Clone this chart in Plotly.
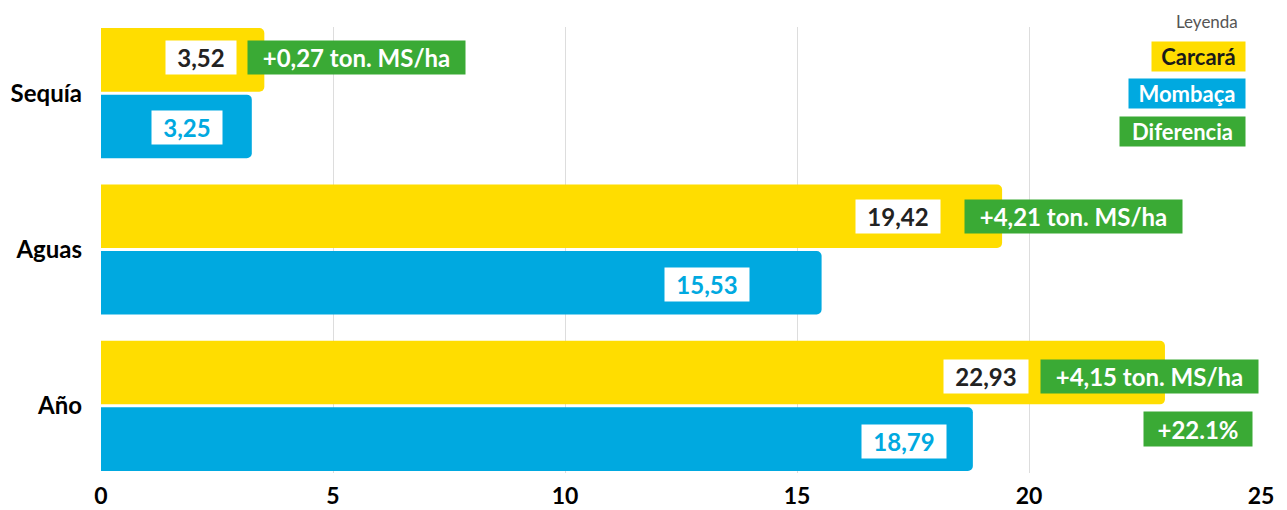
import plotly.graph_objects as go

# ---- data ----
categories = ["Año", "Aguas", "Sequía"]          # bottom -> top
carcara = [22.93, 19.42, 3.52]
mombaca = [18.79, 15.53, 3.25]
diferencia_txt = ["+4,15 ton. MS/ha", "+4,21 ton. MS/ha", "+0,27 ton. MS/ha"]
pct_txt = "+22.1%"
x_ticks = [0, 5, 10, 15, 20, 25]

# ---- style / label placement (data units on x) ----
YELLOW = "#FFDD00"
BLUE = "#00A9E0"
GREEN = "#3AAA35"
FONT = "Lato"
carcara_label_x = [19.07, 17.18, 2.155]
mombaca_label_x = [17.31, 13.07, 1.864]
dif_label_x = [22.60, 20.96, 5.506]
pct_label_x = 23.64
y_off_top = [0.188, 0.211, 0.228]
y_off_bot = [-0.225, -0.224, -0.217]

def fmt(v):
    return f"{v:.2f}".replace(".", ",")

fig = go.Figure()
fig.add_trace(go.Bar(y=categories, x=mombaca, orientation="h", name="Mombaça",
                     marker=dict(color=BLUE, cornerradius=5, line=dict(width=0)),
                     hoverinfo="skip"))
fig.add_trace(go.Bar(y=categories, x=carcara, orientation="h", name="Carcará",
                     marker=dict(color=YELLOW, cornerradius=5, line=dict(width=0)),
                     hoverinfo="skip"))

VAL_SIZE = 24
ann = []
for i, cat in enumerate(categories):
    w = 70 if carcara[i] < 10 else 84
    ann.append(dict(x=carcara_label_x[i], y=i + y_off_top[i], xref="x", yref="y",
                    text=f"<b>{fmt(carcara[i])}</b>", showarrow=False,
                    font=dict(family=FONT, size=VAL_SIZE, color="#222222"),
                    bgcolor="white", width=w, height=33, borderpad=0,
                    xanchor="center", yanchor="middle"))
    w = 70 if mombaca[i] < 10 else 84
    ann.append(dict(x=mombaca_label_x[i], y=i + y_off_bot[i], xref="x", yref="y",
                    text=f"<b>{fmt(mombaca[i])}</b>", showarrow=False,
                    font=dict(family=FONT, size=VAL_SIZE, color=BLUE),
                    bgcolor="white", width=w, height=33, borderpad=0,
                    xanchor="center", yanchor="middle"))
    ann.append(dict(x=dif_label_x[i], y=i + y_off_top[i], xref="x", yref="y",
                    text=f"<b>{diferencia_txt[i]}</b>", showarrow=False,
                    font=dict(family=FONT, size=VAL_SIZE, color="white"),
                    bgcolor=GREEN, width=217, height=33, borderpad=0,
                    xanchor="center", yanchor="middle"))

ann.append(dict(x=pct_label_x, y=0 - 0.148, xref="x", yref="y",
                text=f"<b>{pct_txt}</b>", showarrow=False,
                font=dict(family=FONT, size=VAL_SIZE, color="white"),
                bgcolor=GREEN, width=108, height=34, borderpad=0,
                xanchor="center", yanchor="middle"))

# legend
ann.append(dict(x=0.982, y=1.040, xref="paper", yref="paper", text="Leyenda",
                showarrow=False, font=dict(family=FONT, size=17, color="#555555"),
                xanchor="right", yanchor="top"))
legend_items = [("Carcará", YELLOW, "#1a1a1a", 93, 0.934),
                ("Mombaça", BLUE, "white", 116, 0.850),
                ("Diferencia", GREEN, "white", 125, 0.766)]
for txt, bg, fc, w, yy in legend_items:
    ann.append(dict(x=0.987, y=yy, xref="paper", yref="paper", text=f"<b>{txt}</b>",
                    showarrow=False, font=dict(family=FONT, size=22, color=fc),
                    bgcolor=bg, width=w, height=29, borderpad=0,
                    xanchor="right", yanchor="middle"))

fig.update_layout(
    width=1287, height=510,
    margin=dict(l=93, r=34, t=19, b=45),
    paper_bgcolor="white", plot_bgcolor="white",
    barmode="group", bargap=0.149, bargroupgap=0.045,
    showlegend=False,
    annotations=ann,
    xaxis=dict(range=[0, 25], tickvals=x_ticks, showgrid=True, gridcolor="#dddddd",
               gridwidth=1, zeroline=False, showline=False, ticks="", automargin=False,
               ticklabelstandoff=7,
               tickfont=dict(family=FONT, size=23, color="#000000", weight="bold")),
    yaxis=dict(type="category", categoryorder="array", categoryarray=categories,
               range=[-0.4295, 2.423], showgrid=False, zeroline=False, showline=False,
               ticks="", ticklabelstandoff=18, automargin=False,
               tickfont=dict(family=FONT, size=24, color="#000000", weight="bold")),
)

fig.write_html("out.html")
